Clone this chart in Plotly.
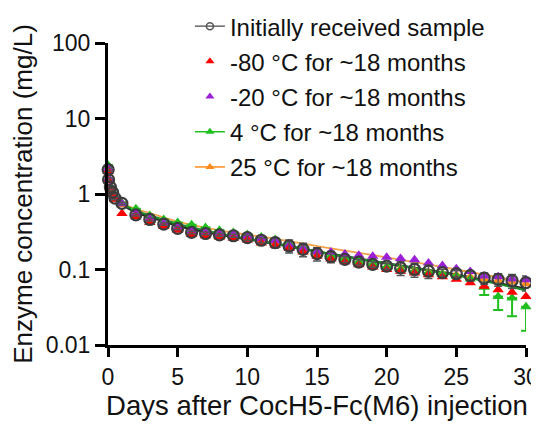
import plotly.graph_objects as go

# ---------------- data ----------------
days = [0.01, 0.04, 0.17, 0.33, 0.5] + list(range(1, 31))

initial = [2.1, 1.55, 1.23, 1.05, 0.88, 0.75, 0.53, 0.46, 0.40, 0.35, 0.31, 0.30, 0.287, 0.28,
           0.264, 0.244, 0.227, 0.205, 0.185, 0.162, 0.148, 0.136, 0.125, 0.117, 0.111, 0.105,
           0.100, 0.095, 0.091, 0.088, 0.083, 0.077, 0.074, 0.071, 0.067]
initial_err = [0.1, 0.08, 0.06, 0.05, 0.04, 0.03, 0.02, 0.02, 0.015, 0.015, 0.012, 0.012, 0.012,
               0.012, 0.02, 0.02, 0.035, 0.04, 0.038, 0.032, 0.025, 0.012, 0.010, 0.010, 0.010,
               0.022, 0.021, 0.019, 0.010, 0.009, 0.012, 0.013, 0.014, 0.015, 0.015]

m80 = [2.0, 1.5, 1.15, 1.0, 0.85, 0.55, 0.50, 0.42, 0.37, 0.33, 0.29, 0.28, 0.27, 0.26, 0.245,
       0.225, 0.21, 0.19, 0.17, 0.15, 0.138, 0.127, 0.116, 0.108, 0.100, 0.095, 0.090, 0.085,
       0.080, 0.074, 0.067, 0.060, 0.054, 0.050, 0.044]

m20 = [2.2, 1.6, 1.25, 1.05, 0.90, 0.74, 0.55, 0.47, 0.41, 0.36, 0.32, 0.31, 0.30, 0.29, 0.275,
       0.255, 0.24, 0.21, 0.19, 0.17, 0.17, 0.16, 0.155, 0.15, 0.145, 0.14, 0.135, 0.122, 0.113,
       0.102, 0.094, 0.082, 0.080, 0.075, 0.073]

p4 = [2.4, 1.6, 1.25, 1.05, 0.90, 0.76, 0.64, 0.52, 0.46, 0.42, 0.39, 0.36, 0.33, 0.31, 0.29,
      0.27, 0.25, 0.22, 0.195, 0.17, 0.15, 0.138, 0.125, 0.117, 0.108, 0.100, 0.095, 0.090,
      0.087, 0.082, 0.075, 0.058, 0.044, 0.042, 0.032]
p4_err_minus = [0] * 31 + [0.012, 0.015, 0.018, 0.0165]

p25 = [2.0, 1.5, 1.2, 1.0, 0.85, 0.72, 0.52, 0.45, 0.39, 0.34, 0.31, 0.29, 0.28, 0.27, 0.255,
       0.235, 0.22, 0.20, 0.18, 0.16, 0.145, 0.133, 0.122, 0.114, 0.108, 0.102, 0.097, 0.092,
       0.088, 0.085, 0.080, 0.075, 0.072, 0.069, 0.065]

fit_days = [0, 0.1, 0.25, 0.5, 1, 2, 3, 5, 8, 12, 16, 20, 25, 30]
initial_fit = [2.1, 1.6, 1.25, 0.95, 0.74, 0.57, 0.50, 0.38, 0.29, 0.22, 0.16, 0.12, 0.085, 0.055]
p4_fit = [2.3, 1.65, 1.28, 0.97, 0.76, 0.60, 0.52, 0.40, 0.30, 0.22, 0.16, 0.12, 0.084, 0.053]
p25_fit = [2.0, 1.55, 1.22, 0.95, 0.76, 0.63, 0.56, 0.43, 0.33, 0.255, 0.19, 0.145, 0.10, 0.067]

names = ["Initially received sample", "-80 °C for ~18 months", "-20 °C for ~18 months",
         "4 °C for ~18 months", "25 °C for ~18 months"]

y_tickvals = [0.01, 0.1, 1, 10, 100]
y_ticktext = ["0.01", "0.1", "1", "10", "100"]
x_tickvals = [0, 5, 10, 15, 20, 25, 30]

# ---------------- style ----------------
C_BLACK = "#3c3c3c"
C_RED = "#ff0000"
C_PURPLE = "#9b1fd6"
C_GREEN = "#1fbf1f"
C_GREEN_LINE = "#1e8c2a"
C_ORANGE = "#ff8a1c"
FONT = "Arial, Liberation Sans, sans-serif"

fig = go.Figure()

# fitted curves
fig.add_trace(go.Scatter(x=fit_days, y=initial_fit, mode="lines", line=dict(color="#222222", width=2.5, shape="spline"),
                         showlegend=False, hoverinfo="skip"))
fig.add_trace(go.Scatter(x=fit_days, y=p25_fit, mode="lines", line=dict(color="#f2a24a", width=1.8, shape="spline"),
                         showlegend=False, hoverinfo="skip"))
fig.add_trace(go.Scatter(x=fit_days, y=p4_fit, mode="lines", line=dict(color=C_GREEN_LINE, width=2.2, shape="spline"),
                         showlegend=False, hoverinfo="skip"))

tri = dict(symbol="triangle-up", size=10, line=dict(width=0))

fig.add_trace(go.Scatter(x=days, y=p25, mode="markers", marker=dict(color=C_ORANGE, **tri),
                         showlegend=False, cliponaxis=False))
fig.add_trace(go.Scatter(x=days, y=p4, mode="markers", marker=dict(color=C_GREEN, **tri),
                         error_y=dict(type="data", array=[0] * len(days), arrayminus=p4_err_minus, symmetric=False,
                                      color=C_GREEN, thickness=2, width=5),
                         showlegend=False, cliponaxis=False))
fig.add_trace(go.Scatter(x=days, y=m20, mode="markers", marker=dict(color=C_PURPLE, **tri),
                         showlegend=False, cliponaxis=False))
fig.add_trace(go.Scatter(x=days, y=m80, mode="markers", marker=dict(color=C_RED, **tri),
                         showlegend=False, cliponaxis=False))
fig.add_trace(go.Scatter(x=days, y=initial, mode="markers",
                         marker=dict(symbol="circle-open", size=11, color=C_BLACK, line=dict(width=2.2, color=C_BLACK)),
                         error_y=dict(type="data", array=initial_err, color="#555555", thickness=1.5, width=4),
                         showlegend=False, cliponaxis=False))

# legend entries
leg = [
    (names[0], "lines+markers", dict(symbol="circle-open", size=7, color="#555555", line=dict(width=1.5, color="#555555")), "#666666"),
    (names[1], "markers", dict(symbol="triangle-up", size=8, color=C_RED), None),
    (names[2], "markers", dict(symbol="triangle-up", size=8, color=C_PURPLE), None),
    (names[3], "lines+markers", dict(symbol="triangle-up", size=8, color=C_GREEN), C_GREEN),
    (names[4], "lines+markers", dict(symbol="triangle-up", size=8, color=C_ORANGE), C_ORANGE),
]
for i, (nm, mode, mk, lc) in enumerate(leg):
    kw = dict(line=dict(color=lc, width=1.5)) if lc else {}
    fig.add_trace(go.Scatter(x=[None], y=[None], mode=mode, name=nm, marker=mk, legendgroup=f"g{i}",
                             legendrank=i, **kw))

# the page body adds an 8px offset, so the figure is 8px smaller than the window
fig.update_layout(
    width=531, height=416,
    margin=dict(l=100, r=13, t=35, b=79, autoexpand=False),
    paper_bgcolor="white", plot_bgcolor="white",
    font=dict(family=FONT, color="#111111", size=22),
    showlegend=True,
    legend=dict(x=0.196, xanchor="left", y=1.129, yanchor="top", font=dict(size=24, family=FONT),
                traceorder="grouped", tracegroupgap=1, bgcolor="rgba(0,0,0,0)", itemwidth=30),
    xaxis=dict(range=[0, 30], tickvals=x_tickvals, showgrid=False, zeroline=False, automargin=False,
               showline=True, linecolor="black", linewidth=3, ticks="outside", ticklen=9,
               tickwidth=3, tickcolor="black", tickfont=dict(size=23),
               title=dict(text="Days after CocH5-Fc(M6) injection", font=dict(size=27.5), standoff=8)),
    yaxis=dict(type="log", range=[-2, 2], tickvals=y_tickvals, ticktext=y_ticktext, showgrid=False,
               zeroline=False, showline=True, linecolor="black", linewidth=3, ticks="outside", automargin=False,
               ticklen=10, tickwidth=3, tickcolor="black", tickfont=dict(size=23),
               title=dict(text="Enzyme concentration (mg/L)", font=dict(size=26), standoff=10)),
)

fig.write_html("out.html")
